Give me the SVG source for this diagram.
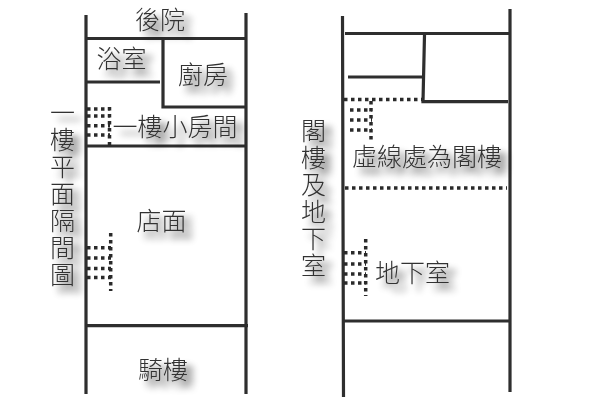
<svg xmlns="http://www.w3.org/2000/svg" width="600" height="400" viewBox="0 0 600 400">
<defs>
<filter id="shadow" x="-40%" y="-40%" width="190%" height="190%">
<feGaussianBlur in="SourceAlpha" stdDeviation="3.500"/>
<feOffset dx="7" dy="7"/>
<feComponentTransfer result="s"><feFuncA type="linear" slope="0.7"/></feComponentTransfer>
<feMerge><feMergeNode in="s"/><feMergeNode in="SourceGraphic"/></feMerge>
</filter>
</defs>
<style>
.w{fill:none;stroke:#2e2e2e;stroke-width:3.200}
.d{fill:none;stroke:#2a2a2a;stroke-width:3.500;stroke-dasharray:3.500 3.500}
text{font-family:"Noto Sans CJK TC","Noto Sans CJK SC",sans-serif;font-size:25px;font-weight:300;fill:#333;filter:url(#shadow)}
.v{writing-mode:vertical-rl;letter-spacing:2px}
</style>
<rect width="600" height="400" fill="#fff"/>
<g id="connectors">
<path class="w" d="M86 15V394M246 13V394M86 38.500H246M163 40V107H246M86 82H160M86 146H246M86 325.700H248"/>
<path class="d" d="M87 109H110M87 116H110M87 125.700H110M87 135H110M109.500 107V146M87 247.700H111M87 258H111M87 268.500H111M87 277.500H111M110.700 233V291"/>
<path class="w" d="M342.500 16L343.500 397M510 9V392M345 33.500H510M424.500 35L423 101.700H508M348 77H422M343 321H510"/>
<path class="d" d="M344 99.500H422M371 101V143M350 110H372M350 120H372M350 130H372M345 188H507M344 252.700H366M344 264H366M344 274H366M344 283H366M365.700 239V296"/>
</g>
<g id="n-houyuan"><text x="135" y="29">後院</text></g>
<g id="n-bath"><text x="96.500" y="68">浴室</text></g>
<g id="n-kitchen"><text x="178" y="84">廚房</text></g>
<g id="n-smallroom"><text x="112.500" y="135.500">一樓小房間</text></g>
<g id="n-label-left"><text class="v" x="62.500" y="100">一樓平面隔間圖</text></g>
<g id="n-shop"><text x="136.500" y="230">店面</text></g>
<g id="n-arcade"><text x="138" y="379">騎樓</text></g>
<g id="n-label-right"><text class="v" x="313.500" y="118">閣樓及地下室</text></g>
<g id="n-note"><text x="352" y="166">虛線處為閣樓</text></g>
<g id="n-basement"><text x="375" y="282">地下室</text></g>
</svg>
